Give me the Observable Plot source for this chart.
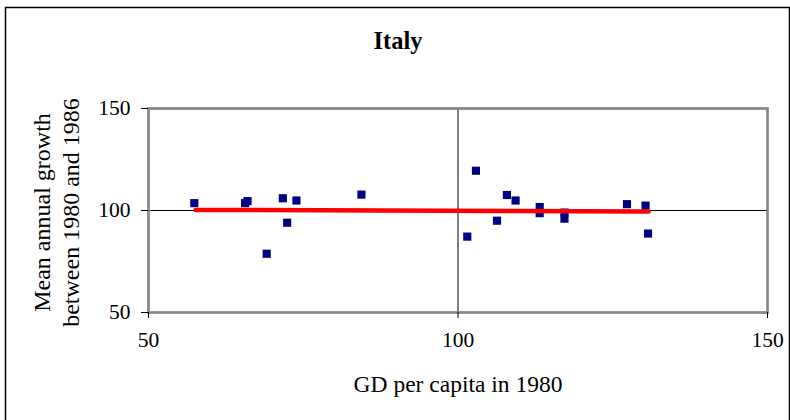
<!DOCTYPE html>
<html><head><meta charset="utf-8">
<script src="https://cdn.jsdelivr.net/npm/d3@7"></script>
<script src="https://cdn.jsdelivr.net/npm/@observablehq/plot@0.6"></script>
<style>
body{margin:0;background:#fff}
svg{display:block}
svg text{font-family:"Liberation Serif","Times New Roman",serif !important}
</style>
</head><body><div id="chart"></div>
<script>
const gdp = [57.4, 65.6, 66.0, 71.7, 73.9, 72.4, 69.1, 84.4, 101.5, 102.9, 107.9, 109.3, 106.3, 113.2, 113.2, 117.2, 117.2, 127.3, 130.3, 130.7];
const growth = [103.6, 103.6, 104.6, 106.0, 104.9, 94.0, 78.8, 107.8, 87.2, 119.5, 107.6, 104.9, 95.0, 101.7, 98.7, 99.0, 96.0, 103.1, 102.4, 88.7];
const trendX = [57.6, 130.8];
const trendY = [100.3, 99.5];
const xTicks = [50, 100, 150];
const yTicks = [50, 100, 150];
const gridX = [100];
const gridY = [100];
const titleText = "Italy";
const xLabel = "GD per capita in 1980";
const yLabel = "Mean annual growth\nbetween 1980 and 1986";

const points = gdp.map((x, i) => ({x, y: growth[i]}));
const trend = trendX.map((x, i) => ({x, y: trendY[i]}));
const serif = "'Liberation Serif','Times New Roman',serif";

const chart = Plot.plot({
  width: 790, height: 420,
  marginLeft: 148, marginRight: 23, marginTop: 108, marginBottom: 108,
  style: {fontFamily: serif, background: "#fff", color: "#000"},
  x: {domain: [50, 150]},
  y: {domain: [50, 150]},
  marks: [
    Plot.frame({insetLeft: -143, insetTop: -101, insetRight: -22, insetBottom: -115, stroke: "#000", strokeWidth: 1.5}),
    Plot.ruleX(gridX, {stroke: "#000", strokeWidth: 1}),
    Plot.ruleY(gridY, {stroke: "#000", strokeWidth: 1}),
    Plot.frame({stroke: "#888", strokeWidth: 2.75}),
    Plot.axisX(xTicks, {tickSize: 6, tickPadding: 13, fontSize: 21.5, fontFamily: serif, label: null}),
    Plot.axisY(yTicks, {tickSize: 7, tickPadding: 11, fontSize: 21.5, fontFamily: serif, label: null}),
    Plot.dot(points, {x: "x", y: "y", symbol: "square", r: 4.6, fill: "#000080"}),
    Plot.line(trend, {x: "x", y: "y", stroke: "#ff0000", strokeWidth: 4.5}),
    Plot.text([titleText], {frameAnchor: "top", textAnchor: "middle", lineAnchor: "middle", dx: -60, dy: -67, fontSize: 24.5, fontWeight: "bold", fontFamily: serif}),
    Plot.text([xLabel], {frameAnchor: "bottom", textAnchor: "middle", lineAnchor: "middle", dy: 72, fontSize: 23.5, fontFamily: serif}),
    Plot.text([yLabel], {frameAnchor: "left", textAnchor: "middle", lineAnchor: "middle", rotate: -90, lineHeight: 1.2, dx: -93, dy: 2, fontSize: 24, fontFamily: serif})
  ]
});
document.getElementById("chart").append(chart);
</script>
</body></html>
